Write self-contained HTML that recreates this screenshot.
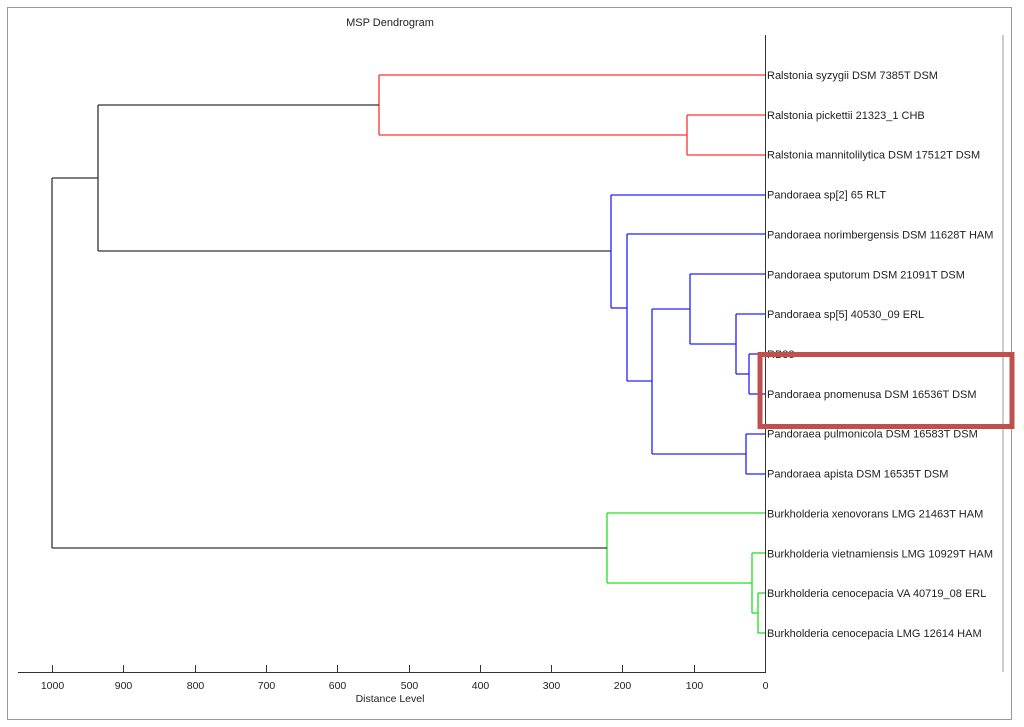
<!DOCTYPE html>
<html><head><meta charset="utf-8"><style>
body{margin:0;background:#fff;}
svg{display:block;font-family:"Liberation Sans",sans-serif;}
</style></head><body>
<svg id="chart" width="1024" height="727">
<rect x="7.5" y="7.5" width="1004" height="712" fill="#fff" stroke="#999"/>
<text x="390" y="26" font-size="11" text-anchor="middle" fill="#222">MSP Dendrogram</text>
<line x1="1003" y1="35" x2="1003" y2="672" stroke="#999"/>
<g id="tree"></g>
<g id="axis"></g>
<rect x="760" y="354.5" width="252" height="72" fill="none" stroke="#c0504d" stroke-width="5"/>
</svg>
<script>
const leafLabels=["Ralstonia syzygii DSM 7385T DSM","Ralstonia pickettii 21323_1 CHB","Ralstonia mannitolilytica DSM 17512T DSM","Pandoraea sp[2] 65 RLT","Pandoraea norimbergensis DSM 11628T HAM","Pandoraea sputorum DSM 21091T DSM","Pandoraea sp[5] 40530_09 ERL","RB88","Pandoraea pnomenusa DSM 16536T DSM","Pandoraea pulmonicola DSM 16583T DSM","Pandoraea apista DSM 16535T DSM","Burkholderia xenovorans LMG 21463T HAM","Burkholderia vietnamiensis LMG 10929T HAM","Burkholderia cenocepacia VA 40719_08 ERL","Burkholderia cenocepacia LMG 12614 HAM"];
const mergeLeft=[1,0,7,6,5,9,19,4,3,16,13,12,11,24];
const mergeRight=[2,15,8,17,18,10,20,21,22,23,14,25,26,27];
const mergeHeight=[109,541,22,41,105,27,158,194,216,935,10,18,222,1000];
const mergeColor=["#ff3030","#ff3030","#2020ff","#2020ff","#2020ff","#2020ff","#2020ff","#2020ff","#2020ff","#333","#20e020","#20e020","#20e020","#333"];
const ticks=[1000,900,800,700,600,500,400,300,200,100,0];

const NS="http://www.w3.org/2000/svg";
const xS=d=>765-d*0.713;
const yS=i=>75+i*(633-75)/14;
const snap=v=>Math.round(v);
const tree=document.getElementById('tree'), axis=document.getElementById('axis');
function line(g,x1,y1,x2,y2,c,name,w){const l=document.createElementNS(NS,'line');
l.setAttribute('x1',x1);l.setAttribute('y1',y1);l.setAttribute('x2',x2);l.setAttribute('y2',y2);
l.setAttribute('stroke',c);l.setAttribute('stroke-width',w||1.3);


g.appendChild(l);return l;}
function text(g,x,y,s,anchor,name,size){const t=document.createElementNS(NS,'text');
t.setAttribute('x',x);t.setAttribute('y',y);t.setAttribute('font-size',size||11);t.setAttribute('fill','#222');
t.setAttribute('text-anchor',anchor);t.textContent=s;


g.appendChild(t);}
const N=leafLabels.length;
const nodeY=[],nodeH=[];
leafLabels.forEach((s,i)=>{nodeY[i]=yS(i);nodeH[i]=0;
text(tree,767,yS(i)+4,s,'start','leaf-label',11);});
mergeLeft.forEach((a,k)=>{const b=mergeRight[k],h=mergeHeight[k],c=mergeColor[k];
const id=N+k;nodeY[id]=(nodeY[a]+nodeY[b])/2;nodeH[id]=h;
const xp=snap(xS(h));
const ya=snap(nodeY[a]),yb=snap(nodeY[b]);
line(tree,snap(xS(nodeH[a])),ya,xp,ya,c,'branch');
line(tree,snap(xS(nodeH[b])),yb,xp,yb,c,'branch');
line(tree,xp,ya,xp,yb,c,'merge-link');});
line(axis,765.5,35,765.5,672,'#333','y-axis-line',1);
line(axis,18,672.5,766,672.5,'#333','x-axis-line',1);
ticks.forEach(t=>{const x=Math.round(xS(t))+.5;line(axis,x,665,x,672,'#333','x-tick',1);
text(axis,x,689,String(t),'middle','x-tick-label',10.5);});
text(axis,390,702,'Distance Level','middle','x-axis-title',10.5);
</script>
</body></html>
